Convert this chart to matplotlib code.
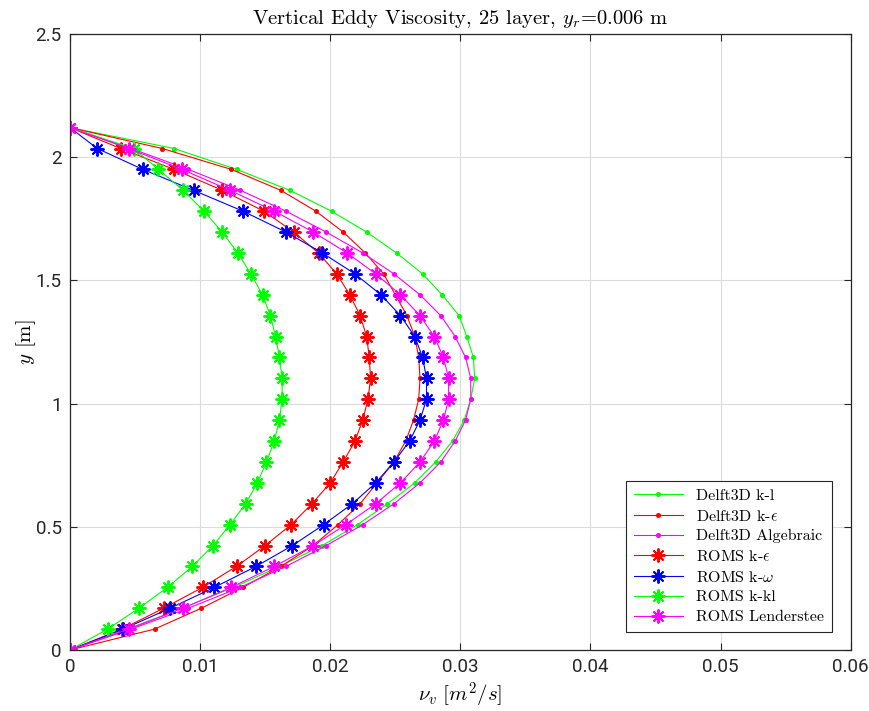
import numpy as np
import matplotlib
matplotlib.use("Agg")
import matplotlib.pyplot as plt
from matplotlib.ticker import FixedLocator, FuncFormatter

plt.rcParams["mathtext.fontset"] = "cm"

# Vertical grid: 25 layers over a depth of 2.12 m
n_layers = 25
depth = 2.12
y = np.linspace(0.0, depth, n_layers + 1)

# Eddy viscosity profiles [m^2/s], bottom to surface
delft_kl = [0, 0.0044, 0.0086, 0.0126, 0.0161, 0.0194, 0.0221, 0.0244, 0.0265,
            0.0281, 0.0294, 0.0303, 0.0308, 0.0311, 0.0310, 0.0305, 0.0299,
            0.0286, 0.0271, 0.0251, 0.0228, 0.0201, 0.0169, 0.0128, 0.0080, 0]
delft_keps = [0, 0.0065, 0.0101, 0.0133, 0.0162, 0.0187, 0.0206, 0.0223, 0.0236,
              0.0249, 0.0258, 0.0264, 0.0268, 0.0269, 0.0268, 0.0265, 0.0259,
              0.0250, 0.0241, 0.0227, 0.0210, 0.0189, 0.0162, 0.0124, 0.0071, 0]
delft_alg = [0, 0.0047, 0.0091, 0.0131, 0.0166, 0.0197, 0.0225, 0.0249, 0.0269,
             0.0285, 0.0296, 0.0304, 0.0308, 0.0308, 0.0304, 0.0296, 0.0285,
             0.0269, 0.0249, 0.0225, 0.0197, 0.0166, 0.0131, 0.0091, 0.0047, 0]
roms_keps = [0, 0.0040, 0.0072, 0.0102, 0.0128, 0.0150, 0.0170, 0.0186, 0.0200,
             0.0210, 0.0219, 0.0225, 0.0229, 0.0231, 0.0230, 0.0228, 0.0223,
             0.0215, 0.0205, 0.0191, 0.0172, 0.0149, 0.0117, 0.0080, 0.0039, 0]
roms_kw = [0, 0.0041, 0.0077, 0.0111, 0.0143, 0.0171, 0.0195, 0.0217, 0.0235,
           0.0249, 0.0261, 0.0269, 0.0274, 0.0274, 0.0271, 0.0265, 0.0254,
           0.0239, 0.0219, 0.0194, 0.0166, 0.0133, 0.0095, 0.0056, 0.0021, 0]
roms_kkl = [0, 0.0029, 0.0053, 0.0075, 0.0094, 0.0110, 0.0123, 0.0135, 0.0144,
            0.0151, 0.0157, 0.0161, 0.0163, 0.0163, 0.0161, 0.0158, 0.0154,
            0.0148, 0.0139, 0.0129, 0.0117, 0.0103, 0.0087, 0.0068, 0.0049, 0]
roms_lend = [0, 0.0045, 0.0087, 0.0124, 0.0157, 0.0187, 0.0212, 0.0235, 0.0254,
             0.0269, 0.0280, 0.0287, 0.0291, 0.0291, 0.0287, 0.0280, 0.0269,
             0.0254, 0.0235, 0.0213, 0.0187, 0.0157, 0.0123, 0.0086, 0.0045, 0]

x_ticks = [0, 0.01, 0.02, 0.03, 0.04, 0.05, 0.06]
y_ticks = [0, 0.5, 1, 1.5, 2, 2.5]

GREEN, RED, BLUE, MAGENTA = "#00ff00", "#ff0000", "#0000ff", "#ff00ff"
asterisk = (8, 2, 0)

fig = plt.figure(figsize=(8.69, 7.11), dpi=100)
ax = fig.add_axes([0.0805, 0.0858, 0.8985, 0.8664])

dot_kw = dict(marker="o", markersize=2.6, linewidth=0.8)
star_kw = dict(marker=asterisk, markersize=10, markeredgewidth=1.4, linewidth=0.8)

ax.plot(delft_kl, y, color=GREEN, label="Delft3D k-l", **dot_kw)
ax.plot(delft_keps, y, color=RED, label=r"Delft3D k-$\epsilon$", **dot_kw)
ax.plot(delft_alg, y, color=MAGENTA, label="Delft3D Algebraic", **dot_kw)
ax.plot(roms_keps, y, color=RED, label=r"ROMS k-$\epsilon$", **star_kw)
ax.plot(roms_kw, y, color=BLUE, label=r"ROMS k-$\omega$", **star_kw)
ax.plot(roms_kkl, y, color=GREEN, label="ROMS k-kl", **star_kw)
ax.plot(roms_lend, y, color=MAGENTA, label="ROMS Lenderstee", **star_kw)

ax.set_xlim(0, 0.06)
ax.set_ylim(0, 2.5)
ax.xaxis.set_major_locator(FixedLocator(x_ticks))
ax.yaxis.set_major_locator(FixedLocator(y_ticks))
fmt = FuncFormatter(lambda v, p: f"{v:g}")
ax.xaxis.set_major_formatter(fmt)
ax.yaxis.set_major_formatter(fmt)
ax.grid(True, color="#dcdcdc", linewidth=0.8)
ax.set_axisbelow(True)
ax.tick_params(direction="in", top=True, right=True, length=5, width=0.8,
               colors="#262626", labelsize=13.5, pad=6)
for lab in ax.get_xticklabels() + ax.get_yticklabels():
    lab.set_fontfamily("Roboto")
for s in ax.spines.values():
    s.set_color("#262626")
    s.set_linewidth(0.9)

ax.set_title(r"Vertical Eddy Viscosity, 25 layer, $y_r$=0.006 m",
             fontfamily="cmr10", fontsize=14.8, pad=7)
ax.set_xlabel(r"$\nu_v\ [m^2/s]$", fontsize=15, labelpad=3)
ax.set_ylabel(r"$y$ [m]", fontfamily="cmr10", fontsize=15, labelpad=-2)

leg = ax.legend(loc="lower right", bbox_to_anchor=(0.976, 0.029),
                prop={"family": "cmr10", "size": 11.5}, fancybox=False,
                framealpha=1, edgecolor="#262626", handlelength=3.1,
                borderpad=0.5, labelspacing=0.35, borderaxespad=0)
leg.get_frame().set_linewidth(0.8)

fig.savefig("out.png", dpi=100)
